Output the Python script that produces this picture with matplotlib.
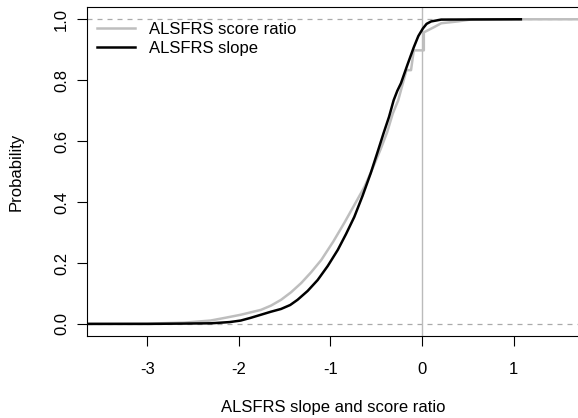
import matplotlib.pyplot as plt

plt.rcParams['font.family'] = ['Liberation Sans', 'DejaVu Sans']
plt.rcParams['axes.unicode_minus'] = False

# ECDF points
ratio_x = [-3.66, -3.0, -2.6, -2.31, -2.15, -1.98, -1.87, -1.76, -1.65, -1.54,
           -1.43, -1.32, -1.21, -1.10, -0.97, -0.85, -0.74, -0.63, -0.54, -0.45,
           -0.38, -0.32, -0.26, -0.2, -0.17, -0.12, -0.09, 0.02, 0.02, 0.13,
           0.21, 0.39, 0.55, 1.75]
ratio_y = [0.0, 0.001, 0.004, 0.011, 0.02, 0.03, 0.038, 0.046, 0.06, 0.079,
           0.104, 0.134, 0.17, 0.21, 0.27, 0.331, 0.39, 0.449, 0.51, 0.575,
           0.63, 0.69, 0.734, 0.80, 0.833, 0.833, 0.898, 0.898, 0.957, 0.974,
           0.987, 0.993, 1.0, 1.0]

slope_x = [-3.66, -3.0, -2.6, -2.3, -2.1, -1.98, -1.87, -1.76, -1.65, -1.54,
           -1.44, -1.36, -1.25, -1.14, -1.03, -0.92, -0.83, -0.74, -0.65, -0.56,
           -0.49, -0.42, -0.36, -0.31, -0.27, -0.23, -0.16, -0.09, -0.04, 0.01,
           0.05, 0.1, 0.21, 1.08]
slope_y = [0.0, 0.0, 0.001, 0.002, 0.006, 0.011, 0.02, 0.03, 0.04, 0.049,
           0.062, 0.079, 0.108, 0.144, 0.19, 0.243, 0.295, 0.351, 0.42, 0.495,
           0.56, 0.626, 0.68, 0.734, 0.765, 0.79, 0.85, 0.908, 0.945, 0.97,
           0.985, 0.993, 0.999, 1.0]

fig = plt.figure(figsize=(5.78, 4.18), dpi=100)
ax = fig.add_axes([0.1505, 0.196, 0.852, 0.787])

ax.axhline(0, color='#aaaaaa', ls=(0, (4, 4)), lw=0.9)
ax.axhline(1, color='#aaaaaa', ls=(0, (4, 4)), lw=0.9)
ax.axvline(0, color='#bbbbbb', lw=1.0)

ax.plot(ratio_x, ratio_y, color='#bebebe', lw=1.8, label='ALSFRS score ratio')
ax.plot(slope_x, slope_y, color='black', lw=1.8, label='ALSFRS slope')

ax.set_xlim(-3.66, 1.72)
ax.set_ylim(-0.04, 1.04)
ax.set_xticks([-3, -2, -1, 0, 1])
ax.set_yticks([0, 0.2, 0.4, 0.6, 0.8, 1.0])
ax.set_yticklabels(['0.0', '0.2', '0.4', '0.6', '0.8', '1.0'],
                   rotation=90, va='center')
ax.tick_params(direction='out', length=7, labelsize=12, width=0.8)
ax.tick_params(axis='x', pad=12)
ax.tick_params(axis='y', pad=6)
for s in ax.spines.values():
    s.set_linewidth(0.8)

ax.set_xlabel('ALSFRS slope and score ratio', fontsize=12, labelpad=16)
ax.set_ylabel('Probability', fontsize=12, labelpad=22)

ax.legend(loc='upper left', frameon=False, fontsize=12, handlelength=2.3,
          borderaxespad=0.2, labelspacing=0.25, bbox_to_anchor=(0.0, 0.985))

fig.savefig('out.png', dpi=100)
